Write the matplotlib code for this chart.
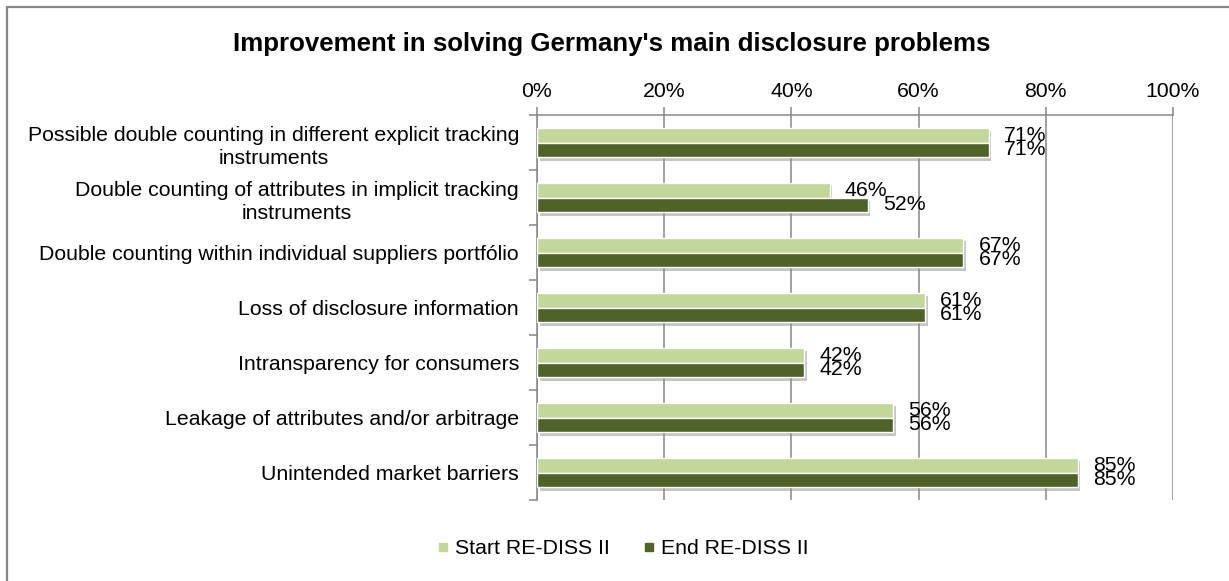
import matplotlib
matplotlib.use("Agg")
import matplotlib.pyplot as plt
import matplotlib.patheffects as pe
from matplotlib.lines import Line2D
from matplotlib.patches import Rectangle
from matplotlib.ticker import FuncFormatter, FixedLocator
import numpy as np

plt.rcParams['font.family'] = ['Liberation Sans', 'DejaVu Sans']

title = "Improvement in solving Germany's main disclosure problems"
categories = [
    "Possible double counting in different explicit tracking\ninstruments",
    "Double counting of attributes in implicit tracking\ninstruments",
    "Double counting within individual suppliers portfólio",
    "Loss of disclosure information",
    "Intransparency for consumers",
    "Leakage of attributes and/or arbitrage",
    "Unintended market barriers",
]
series_names = ["Start RE-DISS II", "End RE-DISS II"]
start_values = [0.71, 0.46, 0.67, 0.61, 0.42, 0.56, 0.85]
end_values = [0.71, 0.52, 0.67, 0.61, 0.42, 0.56, 0.85]
x_ticks = [0.0, 0.2, 0.4, 0.6, 0.8, 1.0]

light = "#C4D79B"
dark = "#4F6228"
grid_c = "#868686"
fs = 15.3

W, H = 1229, 581
fig = plt.figure(figsize=(W / 100, H / 100), dpi=100)
fig.patch.set_facecolor("white")

# chart-area border (left and top edges visible)
fig.add_artist(Rectangle((7 / W, -0.1), 1.2, 1 - 7 / H + 0.1, transform=fig.transFigure,
                         fill=False, edgecolor=grid_c, linewidth=1.6))

left, right, top, bottom = 537, 1173, 115, 500
ax = fig.add_axes([left / W, 1 - bottom / H, (right - left) / W, (bottom - top) / H])

y = np.arange(len(categories))
h = 0.27
shadow = [pe.SimplePatchShadow(offset=(2, -2.5), shadow_rgbFace="#8f8f8f", alpha=0.5), pe.Normal()]
b1 = ax.barh(y - h / 2, start_values, height=h, color=light, edgecolor="white", linewidth=1.0,
             label=series_names[0], zorder=3)
b2 = ax.barh(y + h / 2, end_values, height=h, color=dark, edgecolor="white", linewidth=1.0,
             label=series_names[1], zorder=3)
for bars in (b1, b2):
    for p in bars:
        p.set_path_effects(shadow)

for bars, vals in ((b1, start_values), (b2, end_values)):
    for p, v in zip(bars, vals):
        ax.annotate(f"{v * 100:.0f}%", (v, p.get_y() + p.get_height() / 2),
                    xytext=(11, 0), textcoords="offset points",
                    ha="left", va="center", fontsize=fs, color="black", zorder=5)

ax.set_xlim(0, 1)
ax.set_ylim(len(categories) - 0.5, -0.5)

ax.xaxis.set_ticks_position("top")
ax.xaxis.set_label_position("top")
ax.set_xticks(x_ticks)
ax.xaxis.set_major_formatter(FuncFormatter(lambda v, _: f"{v * 100:.0f}%"))
ax.tick_params(axis="x", direction="out", length=6, width=1.1, color=grid_c,
               labelsize=fs, pad=4)

ax.set_yticks(y)
ax.set_yticklabels(categories, fontsize=fs, multialignment="center", linespacing=1.3)
ax.yaxis.set_minor_locator(FixedLocator(np.arange(-0.5, len(categories), 1.0)))
ax.tick_params(axis="y", which="major", length=0, pad=13)
ax.tick_params(axis="y", which="minor", direction="out", length=6, width=1.1, color=grid_c)

ax.grid(axis="x", color=grid_c, linewidth=1.1, zorder=0)
ax.set_axisbelow(True)
for s in ("right", "bottom"):
    ax.spines[s].set_visible(False)
for s in ("left", "top"):
    ax.spines[s].set_color(grid_c)
    ax.spines[s].set_linewidth(1.1)

fig.text(612 / W, 1 - 44 / H, title, ha="center", va="center", fontsize=18.6, fontweight="bold")

handles = [Line2D([], [], marker="s", linestyle="none", markersize=6, color=light,
                  markeredgecolor=light),
           Line2D([], [], marker="s", linestyle="none", markersize=6, color=dark,
                  markeredgecolor=dark)]
fig.legend(handles, series_names, loc="center", bbox_to_anchor=(623 / W, 1 - 549 / H),
           ncol=2, frameon=False, fontsize=fs, handlelength=0.5, handletextpad=0.3,
           columnspacing=1.6)

fig.savefig("out.png", dpi=100, facecolor="white")
